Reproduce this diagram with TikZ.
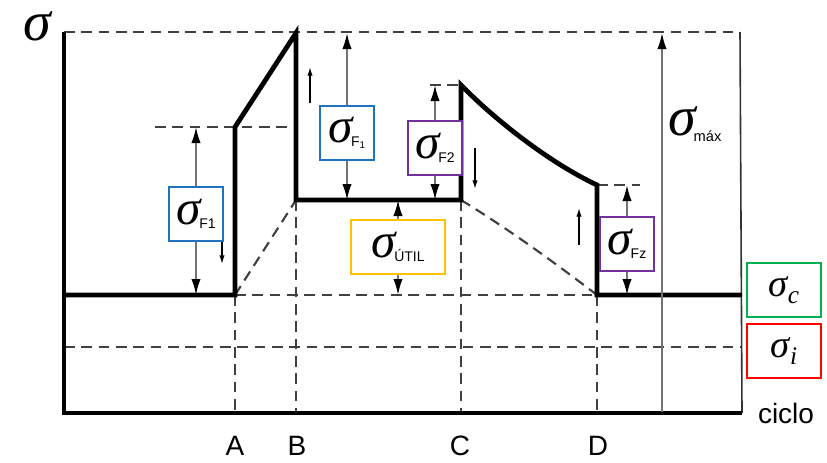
\documentclass[tikz,border=0pt]{standalone}
\usepackage{fontspec}
\setmainfont{Liberation Sans}
\newfontfamily\grk{Liberation Serif}
\usetikzlibrary{arrows.meta}

\definecolor{tagblue}{RGB}{31,114,190}
\definecolor{tagpurple}{RGB}{112,48,160}
\definecolor{tagyellow}{RGB}{255,192,0}
\definecolor{taggreen}{RGB}{0,176,80}
\definecolor{tagred}{RGB}{255,0,0}

% big sigma with a small sans subscript
\newcommand{\sgm}[1]{{\grk\itshape\fontsize{#1}{#1}\selectfont σ}}
\newcommand{\sg}[1]{\sgm{37}\kern-1pt\raisebox{-3pt}{\fontsize{10.5}{10.5}\selectfont #1}}

\begin{document}
\begin{tikzpicture}[
    x=0.75pt, y=-0.75pt,
    every node/.style={font=\rmfamily},
    % thick stress path
    curve/.style={line width=3.6pt, line join=miter},
    frame/.style={line width=3.6pt},
    % dashed guides
    guide/.style={line width=1.6pt, black!75, dash pattern=on 8pt off 5pt},
    % dimension arrows
    dim/.style={-{Latex[length=12pt,width=7pt,color=black]}, line width=1.4pt, draw=black!55},
    hint/.style={-{Latex[length=6.5pt,width=4pt]}, line width=1pt},
    % coloured label boxes
    tag/.style={draw, line width=1.4pt, fill=white, inner sep=0pt,
        minimum width=41pt, minimum height=40pt},
    lab/.style={font=\fontsize{21}{21}\selectfont},
]
\useasboundingbox (0,0) rectangle (827,462);

%% -- key points --------------------------------------
\coordinate (O)  at (64,413);
\coordinate (TL) at (64,32);
\coordinate (TR) at (740,32);
\coordinate (BR) at (742,413);
\coordinate (A0) at (235,295);
\coordinate (A1) at (235,127);
\coordinate (B1) at (296,33);
\coordinate (B0) at (296,200);
\coordinate (C0) at (461,200);
\coordinate (C1) at (461,85);
\coordinate (D1) at (597,185);
\coordinate (D0) at (597,295);
\coordinate (mT) at (662,33);
\coordinate (mB) at (662,412);

%% -- dashed guides -----------------------------------
\draw[guide] (TL) -- (TR);
\draw[guide] (155,127) -- (A1 -| B0);
\draw[guide] (430,85) -- (C1);
\draw[guide] (D1) -- (640,185);
\draw[guide] (A0) -- (D0);
\draw[guide] (64,347) -- (742,347);
\draw[guide] (A0) -- (A0 |- O);
\draw[guide] (B0) -- (B0 |- O);
\draw[guide] (C0) -- (C0 |- O);
\draw[guide] (D0) -- (D0 |- O);
\draw[guide] (A0) -- (B0);
\draw[guide] (C0) .. controls (510,230) and (555,263) .. (D0);

%% -- frame -------------------------------------------
\draw[line width=1.2pt, black!80] (TR) -- (BR);
\draw[frame] (TL) -- (O) -- (BR);

%% -- stress path -------------------------------------
\draw[curve] (64,295) -- (A0) -- (A1) -- (B1) -- (B0) -- (C0) -- (C1)
    .. controls (495,120) and (550,163) .. (D1) -- (D0) -- (742,295);

%% -- label boxes -------------------------------------
\node[tag, draw=tagblue]   (sF1a) at (196,214) {\sg{F1}};
\node[tag, draw=tagblue]   (sF1b) at (347,133) {\sg{F\textsubscript{1}}};
\node[tag, draw=tagpurple] (sF2a) at (435,148) {\sg{F2}};
\node[tag, draw=tagyellow, minimum width=70pt] (sUtil) at (398,247) {\sg{ÚTIL}};
\node[tag, draw=tagpurple] (sF2b) at (627,244) {\sg{Fz}};
\node[tag, draw=taggreen, minimum width=55pt, minimum height=41pt] (sc) at (784,290)
    {\sgm{29}{\grk\itshape\fontsize{19}{19}\selectfont\raisebox{-5pt}{c}}};
\node[tag, draw=tagred, minimum width=55pt, minimum height=41pt] (si) at (784,351)
    {\sgm{29}{\grk\itshape\fontsize{19}{19}\selectfont\raisebox{-5pt}{i}}};

%% -- dimension arrows --------------------------------
\draw[dim] (sF1a.north) -- (sF1a.north |- A1);
\draw[dim] (sF1a.south) -- (sF1a.south |- A0);
\draw[dim] (sF1b.north) -- (sF1b.north |- B1);
\draw[dim] (sF1b.south) -- (sF1b.south |- B0);
\draw[dim] (sF2a.north) -- (sF2a.north |- C1);
\draw[dim] (sF2a.south) -- (sF2a.south |- C0);
\draw[dim] (sUtil.north) -- (sUtil.north |- C0);
\draw[dim] (sUtil.south) -- (sUtil.south |- A0);
\draw[dim] (sF2b.north) -- (sF2b.north |- D1);
\draw[dim] (sF2b.south) -- (sF2b.south |- D0);
\draw[dim, {Latex[length=12pt,width=7pt,color=black]}-] (mT) -- (mB);

%% -- direction hints ---------------------------------
\draw[hint] (222,242) -- (222,264);
\draw[hint] (310,103) -- (310,67);
\draw[hint] (475,148) -- (475,189);
\draw[hint] (579,245) -- (579,208);

%% -- texts -------------------------------------------
\node[inner sep=0pt] (sAx) at (37,26) {\sgm{42}};
\node (sMax) at (695,124) {\sgm{42}\kern-2pt\raisebox{-5pt}{\fontsize{11}{11}\selectfont máx}};
\node[lab] (cic) at (786,413) {ciclo};
\node[lab, inner sep=0pt] (lA) at (235,446) {A};
\node[lab, inner sep=0pt] (lB) at (297,446) {B};
\node[lab, inner sep=0pt] (lC) at (460,446) {C};
\node[lab, inner sep=0pt] (lD) at (598,446) {D};
\end{tikzpicture}
\end{document}
